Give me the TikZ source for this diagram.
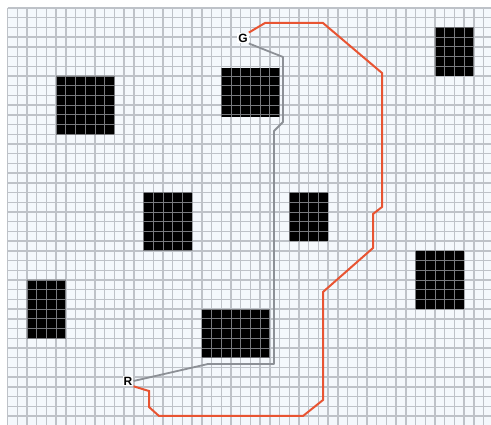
\documentclass[tikz,border=0pt]{standalone}
\usepackage{fontspec}
\setsansfont{Liberation Sans}
\definecolor{gridc}{RGB}{190,194,200}
\definecolor{bgc}{RGB}{244,248,252}
\definecolor{redp}{RGB}{232,84,50}
\definecolor{grayp}{RGB}{140,144,150}
\definecolor{ingridc}{RGB}{120,122,126}
\tikzset{
  gridline/.style={draw=gridc, line width=1.4pt},
  ingrid/.style={draw=ingridc, line width=0.8pt},
  redpath/.style={draw=redp, line width=2pt, line join=miter},
  graypath/.style={draw=grayp, line width=1.8pt, line join=round},
  lbl/.style={font=\sffamily\bfseries\fontsize{12}{12}\selectfont, fill=white, inner sep=1pt, text=black}
}
\begin{document}
\begin{tikzpicture}[x=1pt,y=-1pt]
\useasboundingbox (0,0) rectangle (491,425);
\fill[white] (0,0) rectangle (491,425);
\begin{scope}
\clip (0,0) rectangle (491,425);
\begin{scope}[shift={(7.57,8)}, x=9.714pt, y=-9.714pt]
  \fill[bgc] (0,0) rectangle (50,43.5);
  \foreach \i in {0,...,50} \draw[gridline] (\i,0) -- (\i,43.5);
  \foreach \j in {0,...,43} \draw[gridline] (0,\j) -- (50,\j);
  \fill[black] (5,7) rectangle (11,13) (22,6.2) rectangle (28,11.2) (44,2) rectangle (48,7)
    (14,19) rectangle (19,25) (29,19) rectangle (33,24) (42,25) rectangle (47,31)
    (2,28) rectangle (6,34) (20,31) rectangle (27,36);
  \begin{scope}
    \clip (5,7) rectangle (11,13) (22,6.2) rectangle (28,11.2) (44,2) rectangle (48,7)
    (14,19) rectangle (19,25) (29,19) rectangle (33,24) (42,25) rectangle (47,31)
    (2,28) rectangle (6,34) (20,31) rectangle (27,36);
    \foreach \i in {1,...,49} \draw[ingrid] (\i,0) -- (\i,43.5);
    \foreach \j in {1,...,42} \draw[ingrid] (0,\j) -- (50,\j);
  \end{scope}
\end{scope}
\end{scope}
% labels
\node[lbl] (G) at (243,38) {G};
\node[lbl] (R) at (128,381) {R};
% paths
\draw[graypath] (G.south east) -- (283,57) -- (283,122) -- (274,131) -- (274,364) -- (208,364) -- (R.east);
\draw[redpath] (G.north east) -- (265,23) -- (323,23) -- (382,73) -- (382,207) -- (373,214) -- (373,248) -- (323,292) -- (323,400) -- (303,416) -- (159,416) -- (149,407) -- (149,391) -- (R.south east);
\end{tikzpicture}
\end{document}
